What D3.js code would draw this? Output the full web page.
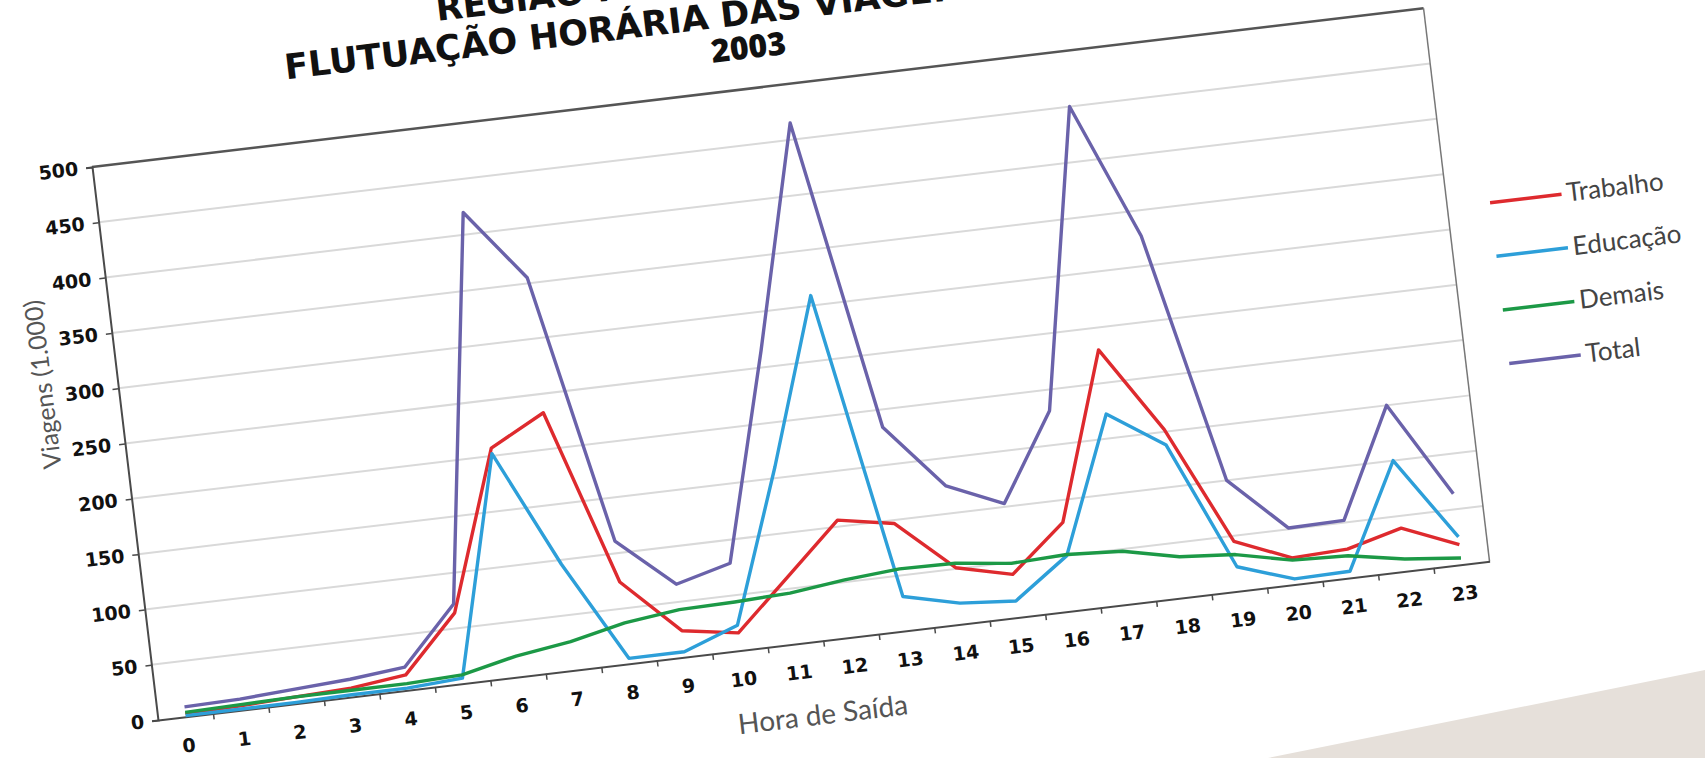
<!DOCTYPE html>
<html>
<head>
<meta charset="utf-8">
<script src="https://cdn.jsdelivr.net/npm/d3@7"></script>
<style>
  body { margin: 0; background: #fff; }
  svg { display: block; }
</style>
</head>
<body>
<div id="chart"></div>
<script>
// hora de saída (categorias) e viagens em milhares
const hours = ["0","1","2","3","4","5","6","7","8","9","10","11","12","13","14","15","16","17","18","19","20","21","22","23"];
const trabalho = [3,4,6,8,14,64,207,233,74,24,16,61,106,97,51,39,80,230,152,45,24,26,39,18];
const educacao = [1,1,1,2,2,5,202,96,5,5,23,160,309,31,19,15,50,172,138,22,5,6,100,25];
const demais   = [4,5,6,6,6,8,19,26,37,43,44,46,52,56,55,49,51,48,37,33,22,20,11,6];
const total    = [9,10,13,16,21,72,420,355,111,66,79,265,465,184,125,103,181,450,327,100,51,52,150,64];
const yTicks = [0,50,100,150,200,250,300,350,400,450,500];
const seriesNames = ["Trabalho","Educação","Demais","Total"];
const seriesColors = ["#de2a2e","#2d9fd9","#1c9946","#6a62aa"];
const titleLines = ["REGIÃO METROPOLITANA DE SÃO PAULO","FLUTUAÇÃO HORÁRIA DAS VIAGENS POR MOTIVO","2003"];

var width = 1705, height = 758;
var plotW = 1341, plotH = 557;

var svg = d3.select("#chart").append("svg")
  .attr("width", width)
  .attr("height", height);

svg.append("rect").attr("width", width).attr("height", height).attr("fill", "#fff");

// canto do papel no fundo (foto)
svg.append("polygon")
  .attr("points", [[1268,758],[1705,670],[1705,758]].map(p => p.join(",")).join(" "))
  .attr("fill", "#e6e0da");

// o gráfico inteiro está girado na foto
var g = svg.append("g")
  .attr("transform", "translate(92,167) rotate(-6.8)");

var x = d3.scaleBand().domain(hours).range([0, plotW]);
var y = d3.scaleLinear().domain([0, 500]).range([plotH, 0]);

// grade
g.append("g").selectAll("line")
  .data(yTicks.filter(d => d > 0 && d < 500))
  .enter().append("line")
  .attr("x1", 0).attr("x2", plotW)
  .attr("y1", d => y(d)).attr("y2", d => y(d))
  .attr("stroke", "#d9d9d9")
  .attr("stroke-width", 2);

// bordas superior e direita
g.append("line").attr("x1", 0).attr("x2", plotW).attr("y1", 0).attr("y2", 0)
  .attr("stroke", "#555").attr("stroke-width", 2.5);
g.append("line").attr("x1", plotW).attr("x2", plotW).attr("y1", 0).attr("y2", plotH)
  .attr("stroke", "#777").attr("stroke-width", 1.5);

// eixo y
var yAxis = g.append("g")
  .call(d3.axisLeft(y).tickValues(yTicks).tickSize(6).tickPadding(8));
yAxis.select(".domain").attr("stroke", "#4a4a4a").attr("stroke-width", 2);
yAxis.selectAll(".tick line").attr("stroke", "#4a4a4a").attr("stroke-width", 1.5);
yAxis.selectAll("text")
  .attr("font-family", "DejaVu Sans")
  .attr("font-weight", "bold")
  .attr("font-size", 19)
  .attr("fill", "#111");

// eixo x (marcas entre categorias)
var xAxis = g.append("g")
  .attr("transform", "translate(0," + plotH + ")")
  .call(d3.axisBottom(x).tickSize(0).tickPadding(22));
xAxis.select(".domain").attr("stroke", "#4a4a4a").attr("stroke-width", 2);
xAxis.selectAll("text")
  .attr("font-family", "DejaVu Sans")
  .attr("font-weight", "bold")
  .attr("font-size", 19)
  .attr("fill", "#111");
xAxis.append("g").selectAll("line")
  .data(hours.slice(1))
  .enter().append("line")
  .attr("x1", d => x(d)).attr("x2", d => x(d))
  .attr("y1", 0).attr("y2", 6)
  .attr("stroke", "#4a4a4a").attr("stroke-width", 1.5);

// títulos dos eixos
g.append("text")
  .attr("transform", "translate(-66,210) rotate(-90)")
  .attr("text-anchor", "middle")
  .attr("font-family", "Lato")
  .attr("font-size", 25)
  .attr("fill", "#555")
  .text("Viagens (1.000)");

g.append("text")
  .attr("x", 661).attr("y", plotH + 83)
  .attr("text-anchor", "middle")
  .attr("font-family", "Lato")
  .attr("font-size", 28)
  .attr("fill", "#555")
  .text("Hora de Saída");

// título
var titleY = [-104, -64, -30];
var titleX = [360, 203, 666];
var titleAnchor = ["start", "start", "middle"];
var titleSize = [35, 35, 32];
var titleFont = ["DejaVu Sans", "DejaVu Sans", "Open Sans"];
g.append("g").selectAll("text")
  .data(titleLines)
  .enter().append("text")
  .attr("x", (d, i) => titleX[i])
  .attr("y", (d, i) => titleY[i])
  .attr("text-anchor", (d, i) => titleAnchor[i])
  .attr("font-family", (d, i) => titleFont[i])
  .attr("font-weight", (d, i) => i < 2 ? "bold" : 800)
  .attr("font-size", (d, i) => titleSize[i])
  .attr("fill", "#111")
  .text(d => d);

// séries
var seriesData = [trabalho, educacao, demais, total];
var line = d3.line()
  .x((d, i) => x(hours[i]) + x.bandwidth() / 2)
  .y(d => y(d));

g.append("g").selectAll("path")
  .data(seriesData)
  .enter().append("path")
  .attr("d", d => line(d))
  .attr("fill", "none")
  .attr("stroke", (d, i) => seriesColors[i])
  .attr("stroke-width", 3.4)
  .attr("stroke-linejoin", "round");

// legenda
var legend = g.append("g").selectAll("g")
  .data(seriesNames)
  .enter().append("g")
  .attr("transform", (d, i) => "translate(1384," + (201 + i * 54) + ")");
legend.append("line")
  .attr("x1", 0).attr("x2", 72).attr("y1", 0).attr("y2", 0)
  .attr("stroke", (d, i) => seriesColors[i])
  .attr("stroke-width", 3.5);
legend.append("text")
  .attr("x", 77).attr("y", 8)
  .attr("font-family", "Lato")
  .attr("font-size", 26)
  .attr("fill", "#444")
  .text(d => d);
</script>
</body>
</html>
